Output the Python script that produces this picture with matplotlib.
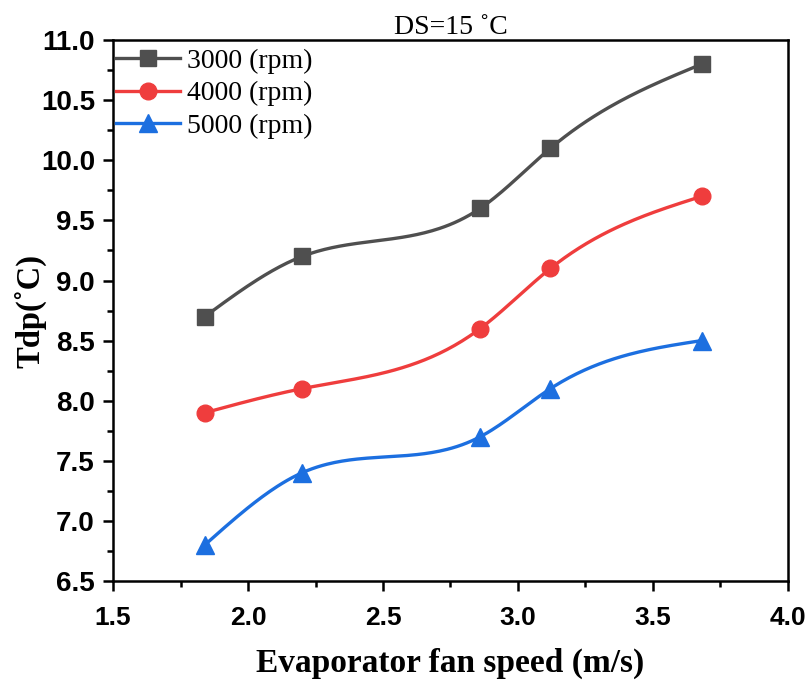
import matplotlib
matplotlib.use("Agg")
import matplotlib.pyplot as plt
from matplotlib.ticker import MultipleLocator
import numpy as np

# data
speed = [1.84, 2.20, 2.86, 3.12, 3.68]
tdp_3000 = [8.7, 9.2, 9.6, 10.1, 10.8]
tdp_4000 = [7.9, 8.1, 8.6, 9.1, 9.7]
tdp_5000 = [6.8, 7.4, 7.7, 8.1, 8.5]
labels = ["3000 (rpm)", "4000 (rpm)", "5000 (rpm)"]


def natural_spline(x, y, n=200):
    # natural cubic spline through the points (smooth connecting line)
    x = np.asarray(x, float)
    y = np.asarray(y, float)
    k = len(x)
    h = np.diff(x)
    A = np.zeros((k, k))
    b = np.zeros(k)
    A[0, 0] = A[-1, -1] = 1
    for i in range(1, k - 1):
        A[i, i - 1] = h[i - 1]
        A[i, i] = 2 * (h[i - 1] + h[i])
        A[i, i + 1] = h[i]
        b[i] = 6 * ((y[i + 1] - y[i]) / h[i] - (y[i] - y[i - 1]) / h[i - 1])
    M = np.linalg.solve(A, b)
    xs = np.linspace(x[0], x[-1], n)
    idx = np.clip(np.searchsorted(x, xs) - 1, 0, k - 2)
    x0, x1 = x[idx], x[idx + 1]
    hh = x1 - x0
    t0, t1 = x1 - xs, xs - x0
    ys = (M[idx] * t0**3 + M[idx + 1] * t1**3) / (6 * hh) \
        + (y[idx] / hh - M[idx] * hh / 6) * t0 \
        + (y[idx + 1] / hh - M[idx + 1] * hh / 6) * t1
    return xs, ys


fig = plt.figure(figsize=(8.09, 6.8), dpi=100)
ax = fig.add_axes([0.1397, 0.1456, 0.8343, 0.7954])

series = [
    (tdp_3000, "#4f4f4f", "s", 11.5),
    (tdp_4000, "#ef3d3d", "o", 12),
    (tdp_5000, "#1c6fe0", "^", 13),
]
for (vals, color, marker, ms), lab in zip(series, labels):
    xs, ys = natural_spline(speed, vals)
    ax.plot(xs, ys, color=color, lw=2.4)
    ax.plot(speed, vals, linestyle="none", marker=marker, color=color, markersize=ms)
    # legend proxy
    ax.plot([], [], color=color, lw=2.4, marker=marker, markersize=ms, label=lab)

ax.set_xlim(1.5, 4.0)
ax.set_ylim(6.5, 11.0)
ax.xaxis.set_major_locator(MultipleLocator(0.5))
ax.xaxis.set_minor_locator(MultipleLocator(0.25))
ax.yaxis.set_major_locator(MultipleLocator(0.5))
ax.yaxis.set_minor_locator(MultipleLocator(0.25))
ax.tick_params(which="both", direction="out", top=False, right=False, width=1.8)
ax.tick_params(which="major", length=7)
ax.tick_params(which="minor", length=4)
ax.tick_params(axis="x", pad=11)
ax.tick_params(axis="y", pad=6)
for sp in ax.spines.values():
    sp.set_linewidth(1.8)

for lbl in ax.get_xticklabels():
    lbl.set_fontfamily("Liberation Sans")
    lbl.set_fontweight("bold")
    lbl.set_fontsize(19)
for lbl in ax.get_yticklabels():
    lbl.set_fontfamily("Liberation Sans")
    lbl.set_fontweight("bold")
    lbl.set_fontsize(20)

ax.set_xlabel("Evaporator fan speed (m/s)", fontfamily="Liberation Serif",
              fontweight="bold", fontsize=24, labelpad=13)
ax.set_ylabel("Tdp(˚C)", fontfamily="Liberation Serif", fontweight="bold",
              fontsize=23.5, labelpad=-4)
ax.set_title("DS=15 ˚C", fontfamily="Liberation Serif", fontsize=20, pad=4)

ax.legend(loc="upper left", bbox_to_anchor=(0.0, 0.99), frameon=False,
          prop={"family": "Liberation Serif", "size": 20},
          handlelength=2.3, handletextpad=0.25, labelspacing=0.26,
          borderaxespad=0.0, borderpad=0.1, markerscale=1.0)

fig.savefig("out.png", dpi=100)
